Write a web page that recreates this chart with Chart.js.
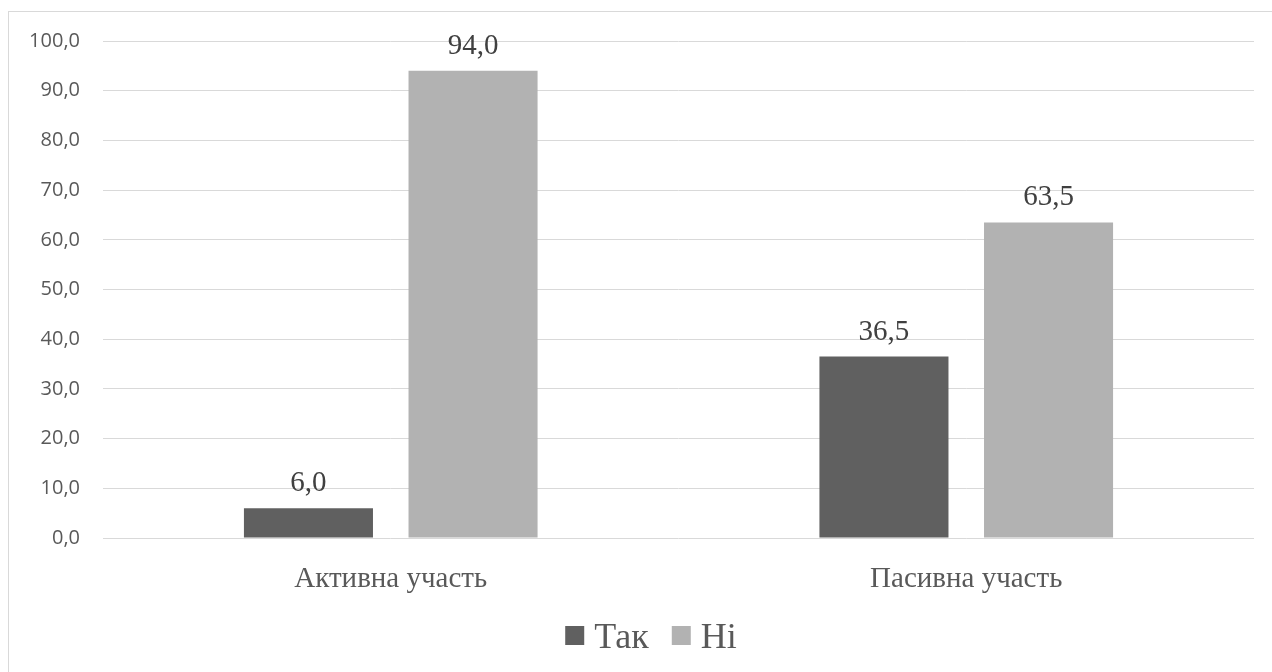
<!DOCTYPE html>
<html>
<head>
<meta charset="utf-8">
<script src="https://cdn.jsdelivr.net/npm/chart.js@4.4.1/dist/chart.umd.min.js"></script>
<style>
html,body{margin:0;padding:0;background:#fff;overflow:hidden;}
#frame{position:absolute;left:8px;top:11px;width:1300px;height:700px;border:1px solid #d9d9d9;box-sizing:border-box;}
#wrap{position:absolute;left:0;top:0;width:1272px;height:672px;}
</style>
</head>
<body>
<div id="frame"></div>
<div id="wrap"><canvas id="c" width="1272" height="672"></canvas></div>
<script>
const categories = ["Активна участь", "Пасивна участь"];
const seriesNames = ["Так", "Ні"];
const yesValues = [6.0, 36.5];
const noValues = [94.0, 63.5];
const yTicks = [0, 10, 20, 30, 40, 50, 60, 70, 80, 90, 100];

const fmt = v => v.toFixed(1).replace('.', ',');
const SERIF = '"Liberation Serif", "Times New Roman", serif';

const labelPlugin = {
  id: 'barLabels',
  afterDatasetsDraw(chart) {
    const ctx = chart.ctx;
    ctx.save();
    ctx.font = '29px ' + SERIF;
    ctx.fillStyle = '#404040';
    ctx.textAlign = 'center';
    ctx.textBaseline = 'alphabetic';
    chart.data.datasets.forEach((ds, i) => {
      const meta = chart.getDatasetMeta(i);
      meta.data.forEach((bar, j) => {
        ctx.fillText(fmt(ds.data[j]), bar.x, bar.y - 17);
      });
    });
    ctx.restore();
  }
};

const legendPlugin = {
  id: 'customLegend',
  afterDraw(chart) {
    const ctx = chart.ctx;
    ctx.save();
    ctx.font = '36px ' + SERIF;
    ctx.textBaseline = 'alphabetic';
    ctx.textAlign = 'left';
    const box = 19, gapText = 10, gapItem = 23;
    const items = chart.data.datasets.map(ds => ({ text: ds.label, color: ds.backgroundColor }));
    let total = 0;
    items.forEach((it, i) => {
      it.w = ctx.measureText(it.text).width;
      total += box + gapText + it.w + (i < items.length - 1 ? gapItem : 0);
    });
    let x = 651 - total / 2;
    const boxTop = 626, baseline = 648;
    items.forEach(it => {
      ctx.fillStyle = it.color;
      ctx.fillRect(x, boxTop, box, box);
      x += box + gapText;
      ctx.fillStyle = '#595959';
      ctx.fillText(it.text, x, baseline);
      x += it.w + gapItem;
    });
    ctx.restore();
  }
};

new Chart(document.getElementById('c'), {
  type: 'bar',
  data: {
    labels: categories,
    datasets: [
      { label: seriesNames[0], data: yesValues, backgroundColor: '#606060', categoryPercentage: 0.572, barPercentage: 0.784 },
      { label: seriesNames[1], data: noValues, backgroundColor: '#b2b2b2', categoryPercentage: 0.572, barPercentage: 0.784 }
    ]
  },
  options: {
    responsive: false,
    animation: false,
    devicePixelRatio: 1,
    layout: { padding: { top: 41, right: 18, bottom: 72, left: 0 } },
    plugins: {
      tooltip: { enabled: false },
      legend: { display: false }
    },
    scales: {
      x: {
        grid: { display: false },
        border: { display: false },
        ticks: {
          font: { family: SERIF, size: 29 },
          color: '#595959',
          padding: 16
        },
        afterFit(scale) { scale.height = 62; }
      },
      y: {
        min: 0,
        max: 100,
        afterBuildTicks(scale) { scale.ticks = yTicks.map(v => ({ value: v })); },
        grid: { color: '#d9d9d9', lineWidth: 1, drawTicks: false },
        border: { display: false },
        ticks: {
          font: { family: '"Open Sans", "Liberation Sans", sans-serif', size: 20 },
          color: '#595959',
          padding: 23,
          callback: v => fmt(v)
        },
        afterFit(scale) { scale.width = 103; }
      }
    }
  },
  plugins: [labelPlugin, legendPlugin]
});
</script>
</body>
</html>
